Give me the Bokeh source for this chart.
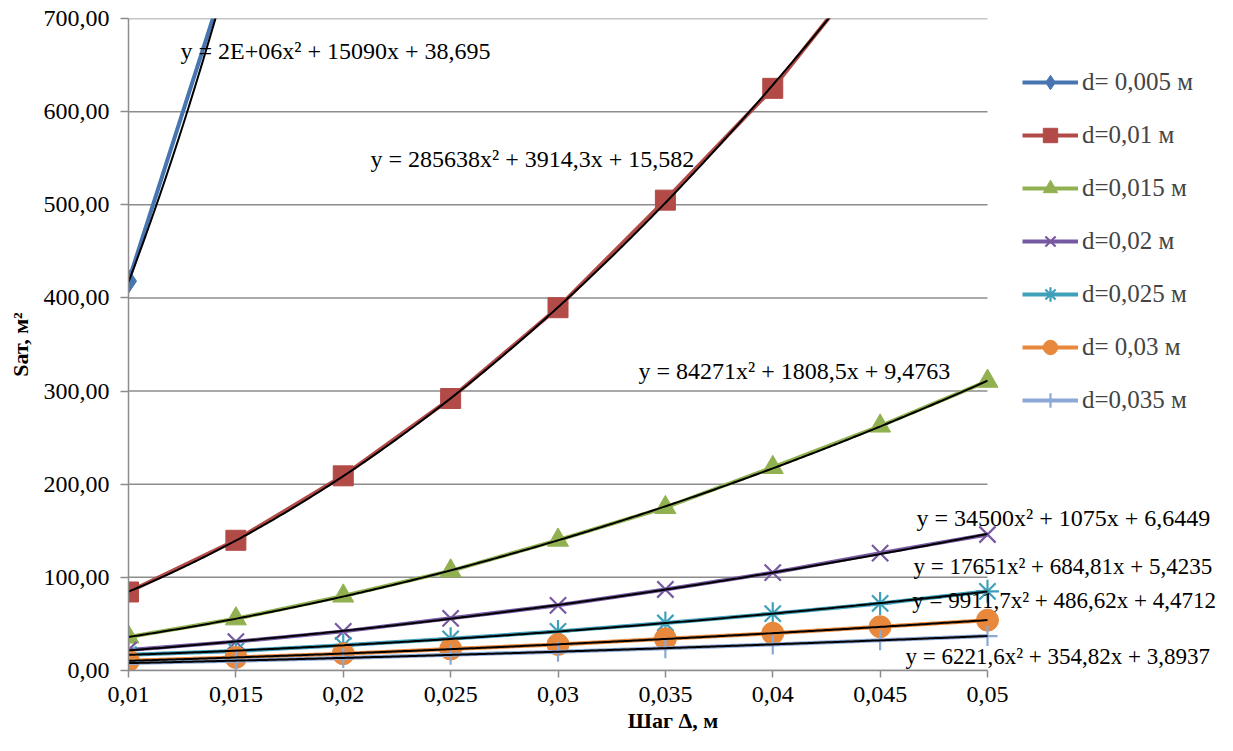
import numpy as np
from bokeh.plotting import figure
from bokeh.models import Legend, LegendItem, Label, FixedTicker, CustomJSTickFormatter, Range1d
from bokeh.embed import file_html
from bokeh.resources import INLINE

# ---------------- data ----------------
x_steps = [0.01, 0.015, 0.02, 0.025, 0.03, 0.035, 0.04, 0.045, 0.05]

series_names = ["d= 0,005 м", "d=0,01 м", "d=0,015 м", "d=0,02 м",
                "d=0,025 м", "d= 0,03 м", "d=0,035 м"]

s_d005 = [418.0, 777.0, 1250.0, 1840.0, 2540.0, 3360.0, 4290.0, 5330.0, 6490.0]
s_d010 = [84.3, 139.8, 209.0, 292.0, 389.5, 505.0, 625.0, 770.0, 925.0]
s_d015 = [36.0, 55.5, 80.0, 107.0, 140.0, 175.0, 218.0, 262.5, 310.6]
s_d020 = [22.0, 31.0, 42.0, 56.0, 70.0, 87.0, 105.0, 126.0, 146.0]
s_d025 = [17.0, 21.0, 27.0, 34.0, 42.0, 51.0, 61.0, 72.0, 85.0]
s_d030 = [10.5, 14.0, 18.0, 23.0, 28.0, 34.0, 40.0, 47.0, 54.0]
s_d035 = [8.0, 10.5, 13.5, 17.0, 20.0, 24.0, 28.0, 32.5, 37.0]

equations = [
    "y = 2E+06x² + 15090x + 38,695",
    "y = 285638x² + 3914,3x + 15,582",
    "y = 84271x² + 1808,5x + 9,4763",
    "y = 34500x² + 1075x + 6,6449",
    "y = 17651x² + 684,81x + 5,4235",
    "y = 9911,7x² + 486,62x + 4,4712",
    "y = 6221,6x² + 354,82x + 3,8937",
]

y_ticks = [0, 100, 200, 300, 400, 500, 600, 700]
x_ticks = x_steps

# ---------------- style / layout ----------------
series = [s_d005, s_d010, s_d015, s_d020, s_d025, s_d030, s_d035]
colors = ["#4675B0", "#B24A47", "#91B150", "#7759A2", "#3FA0BA", "#E8883C", "#8CA8D6"]
markers = ["diamond", "square", "triangle", "x", "asterisk", "circle", "cross"]
msizes = [24, 20, 21, 23, 23, 22, 20]
# label anchor positions (data units) and font sizes
eq_pos = [(0.01242, 664.8), (0.02127, 549.6), (0.03375, 321.2), (0.04669, 163.3),
          (0.04655, 112.0), (0.04650, 74.7), (0.04618, 14.9)]
eq_size = ["24px", "24px", "24px", "24px", "23px", "23px", "23px"]

FONT = "Liberation Serif"
GRID = "#8c8c8c"
W, H = 1217, 735
LEFT, TOP, BOTTOM = 128, 18, 63
PX_PER_UNIT = 107.375 / 0.005
x_end = 0.01 + (W - LEFT) / PX_PER_UNIT   # frame extends to the right edge (legend / labels live there)

p = figure(width=W, height=H, x_range=Range1d(0.01, x_end), y_range=Range1d(0, 700),
           output_backend="svg", toolbar_location=None,
           min_border_left=LEFT, min_border_right=0, min_border_top=TOP, min_border_bottom=BOTTOM)
p.outline_line_color = None
p.background_fill_color = "white"
p.xgrid.visible = False
p.ygrid.visible = False

# horizontal grid lines limited to the data extent
p.segment(x0=[x_steps[0]] * len(y_ticks), x1=[x_steps[-1]] * len(y_ticks),
          y0=y_ticks, y1=y_ticks, line_color=GRID, line_width=1.5)

p.yaxis.ticker = FixedTicker(ticks=y_ticks)
p.xaxis.ticker = FixedTicker(ticks=x_ticks)
p.xaxis.bounds = (x_steps[0], x_steps[-1])
p.yaxis.formatter = CustomJSTickFormatter(code="return tick.toFixed(2).replace('.', ',');")
p.xaxis.formatter = CustomJSTickFormatter(
    code="return parseFloat(tick.toFixed(4)).toString().replace('.', ',');")

for ax in (p.xaxis, p.yaxis):
    ax.axis_line_color = GRID
    ax.axis_line_width = 1.5
    ax.major_tick_line_color = GRID
    ax.major_tick_line_width = 1.5
    ax.major_tick_in = 0
    ax.major_tick_out = 8
    ax.minor_tick_line_color = None
    ax.major_label_text_font = FONT
    ax.major_label_text_font_size = "24px"
    ax.major_label_text_color = "black"
    ax.axis_label_text_font = FONT
    ax.axis_label_text_font_size = "22px"
    ax.axis_label_text_font_style = "bold"
    ax.axis_label_text_color = "black"

p.xaxis.major_tick_out = 7
p.xaxis.axis_label = "Шаг Δ, м"
p.yaxis.axis_label = "Sат, м²"
p.yaxis.major_label_standoff = 11
p.xaxis.major_label_standoff = 9
p.yaxis.axis_label_standoff = 8
p.xaxis.axis_label_standoff = 3

items = []
for name, s, c, m, ms in zip(series_names, series, colors, markers, msizes):
    ln = p.line(x_steps, s, line_color=c, line_width=4)
    if m in ("x", "asterisk", "cross"):
        sc = p.scatter(x_steps, s, marker=m, size=ms, line_color=c, line_width=2.2)
    else:
        sc = p.scatter(x_steps, s, marker=m, size=ms, fill_color=c, line_color=c)
    items.append(LegendItem(label=name, renderers=[ln, sc]))

# polynomial trendlines (Excel-like second-order fit of each series)
dense = np.linspace(0.01, 0.05, 300)
for s in series:
    coeffs = np.polyfit(x_steps, s, 2)
    p.line(dense, np.polyval(coeffs, dense), line_color="black", line_width=2)

for txt, (ex, ey), fs in zip(equations, eq_pos, eq_size):
    p.add_layout(Label(x=ex, y=ey, text=txt, text_font=FONT, text_font_size=fs,
                       text_baseline="middle", text_align="left", text_color="black"))

legend = Legend(items=items, location=(894, 252))
legend.glyph_width = 56
legend.glyph_height = 36
legend.label_height = 36
legend.spacing = 17
legend.padding = 0
legend.margin = 0
legend.label_standoff = 4
legend.label_text_font = FONT
legend.label_text_font_size = "25px"
legend.label_text_baseline = "middle"
legend.border_line_color = None
legend.background_fill_alpha = 0
p.add_layout(legend)

open("out.html", "w").write(file_html(p, INLINE))
